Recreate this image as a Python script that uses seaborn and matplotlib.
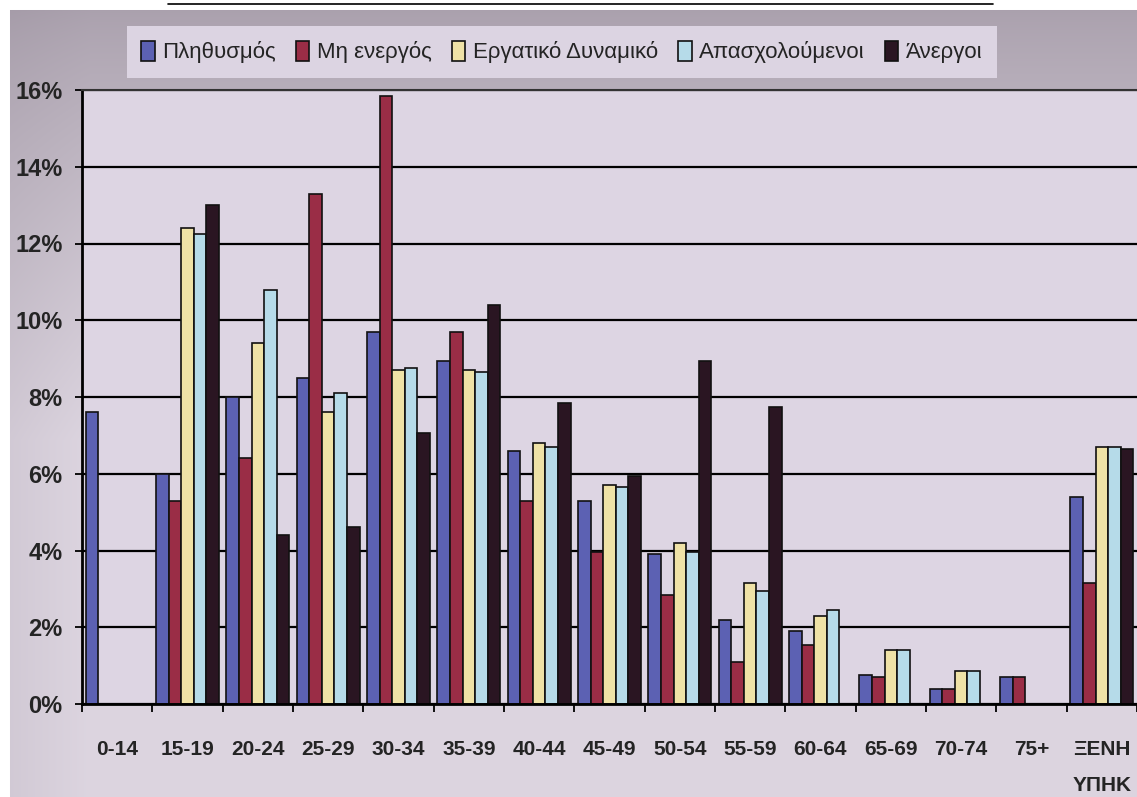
import numpy as np
import pandas as pd
import matplotlib
matplotlib.use("Agg")
import matplotlib.pyplot as plt
import seaborn as sns

# Age groups and shares (%) per population category
groups = ["0-14", "15-19", "20-24", "25-29", "30-34", "35-39", "40-44", "45-49",
          "50-54", "55-59", "60-64", "65-69", "70-74", "75+", "ΞΕΝΗ\nΥΠΗΚ"]
series_names = ["Πληθυσμός", "Μη ενεργός", "Εργατικό Δυναμικό", "Απασχολούμενοι", "Άνεργοι"]

population = [7.6, 6.0, 8.0, 8.5, 9.7, 8.95, 6.6, 5.3, 3.9, 2.2, 1.9, 0.75, 0.4, 0.7, 5.4]
inactive = [0, 5.3, 6.4, 13.3, 15.85, 9.7, 5.3, 3.95, 2.85, 1.1, 1.55, 0.7, 0.4, 0.7, 3.15]
labour_force = [0, 12.4, 9.4, 7.6, 8.7, 8.7, 6.8, 5.7, 4.2, 3.15, 2.3, 1.4, 0.85, 0, 6.7]
employed = [0, 12.25, 10.8, 8.1, 8.75, 8.65, 6.7, 5.65, 3.95, 2.95, 2.45, 1.4, 0.85, 0, 6.7]
unemployed = [0, 13.0, 4.4, 4.6, 7.05, 10.4, 7.85, 5.95, 8.95, 7.75, 0, 0, 0, 0, 6.65]

palette = ["#5c61b3", "#9a2d46", "#efe2a6", "#b6dbe9", "#2a1522"]

df = pd.DataFrame({
    "Ηλικία": groups * len(series_names),
    "Κατηγορία": np.repeat(series_names, len(groups)),
    "Ποσοστό": np.concatenate([population, inactive, labour_force, employed, unemployed]),
})

sns.set_theme(style="white")
plt.rcParams["font.family"] = ["Liberation Sans", "DejaVu Sans"]
text_color = "#242424"

W, H = 1137, 797
fig = plt.figure(figsize=(W / 100, H / 100), dpi=100)

# Shaded frame behind the chart
bg = fig.add_axes([0, 0, 1, 1], zorder=-10)
yy, xx = np.mgrid[0:H, 0:W]
tv = np.clip((yy - 10) / 430.0, 0, 1) ** 0.8
th = np.clip((xx - 10) / 80.0, 0, 1)
mix = np.clip(0.8 * tv + 0.2 * th * (0.4 + 0.6 * tv), 0, 1)[..., None]
dark = np.array([0.650, 0.612, 0.662])
light = np.array([0.865, 0.835, 0.878])
img = dark + (light - dark) * mix
img[(yy < 10) | (xx < 10)] = 1.0
bg.imshow(img, extent=(0, 1, 0, 1), aspect="auto", origin="upper")
bg.plot([168 / W, 993 / W], [1 - 4 / H] * 2, color="black", lw=1.2)
bg.set_xlim(0, 1)
bg.set_ylim(0, 1)
bg.axis("off")

ax = fig.add_axes([82 / W, 1 - 704 / H, (W - 82) / W, (704 - 90) / H])
ax.set_facecolor("#ddd5e3")

sns.barplot(data=df, x="Ηλικία", y="Ποσοστό", hue="Κατηγορία", palette=palette,
            saturation=1, width=0.9, edgecolor="#111111", linewidth=1.2, ax=ax)

ax.set_xlim(-0.5, len(groups) - 0.5)
ax.set_ylim(0, 16)
ax.set_yticks(range(0, 17, 2))
ax.set_yticklabels([f"{v}%" for v in range(0, 17, 2)], fontsize=17,
                   fontweight="bold", color=text_color)
ax.set_xticks(range(len(groups)))
ax.set_xticklabels(groups, fontsize=15, fontweight="bold", color=text_color)
ax.set_xticks(np.arange(-0.5, len(groups), 1), minor=True)
ax.tick_params(axis="x", which="major", length=0, pad=26)
ax.tick_params(axis="x", which="minor", length=6, width=1.3, color="black",
               direction="out", bottom=True)
ax.tick_params(axis="y", length=5, width=1.3, color="black", direction="out",
               left=True, pad=9)
ax.get_xticklabels()[-1].set_linespacing(2.1)
ax.set_xlabel("")
ax.set_ylabel("")

ax.yaxis.grid(True, color="black", lw=1.6)
ax.xaxis.grid(False)
ax.set_axisbelow(True)
for side in ["left", "bottom"]:
    ax.spines[side].set_color("black")
    ax.spines[side].set_linewidth(2)
ax.spines["top"].set_color("#333333")
ax.spines["top"].set_linewidth(1.5)
ax.spines["right"].set_visible(False)

handles, labels = ax.get_legend_handles_labels()
ax.get_legend().remove()
leg = fig.legend(handles, labels, loc="center", bbox_to_anchor=(562 / W, 1 - 52 / H),
                 ncol=5, frameon=True, facecolor="#dcd4e2", edgecolor="none",
                 fancybox=False, framealpha=1, handlelength=0.6, handleheight=1.0,
                 handletextpad=0.35, columnspacing=0.9, fontsize=16, borderpad=0.65)
for txt in leg.get_texts():
    txt.set_color(text_color)

fig.savefig("out.png", dpi=100)
